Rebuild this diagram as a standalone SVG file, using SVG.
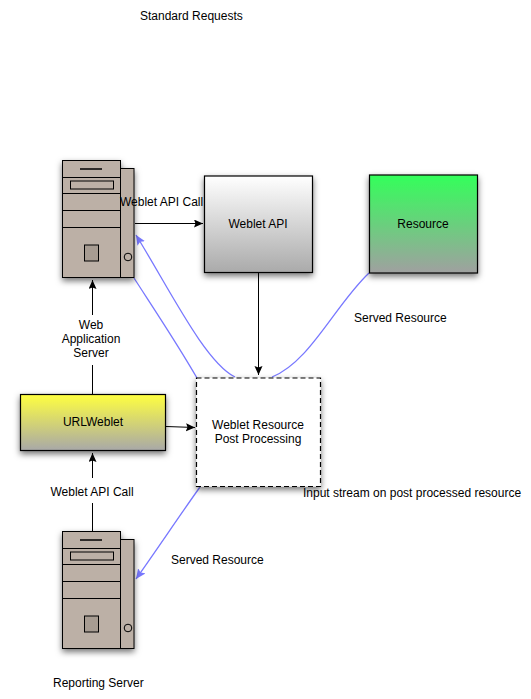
<svg xmlns="http://www.w3.org/2000/svg" xmlns:xlink="http://www.w3.org/1999/xlink" width="531" height="699" viewBox="0 0 531 699">
<style>
text{font-family:"Liberation Sans",Arial,sans-serif;font-size:12px;fill:#000}
.m{text-anchor:middle}
.box{stroke:#000;stroke-width:1.200}
.srv{fill:#bcb0a6;stroke:#000;stroke-width:1}
.k{fill:none;stroke:#000;stroke-width:1}
.b{fill:none;stroke:#7878ff;stroke-width:1.300}
</style>
<defs>
<filter id="sh" x="-20%" y="-20%" width="150%" height="150%"><feDropShadow dx="0" dy="3" stdDeviation="3" flood-color="#000" flood-opacity="0.55"/></filter>
<linearGradient id="gw" x1="0" y1="0" x2="0" y2="1"><stop offset="0" stop-color="#fff"/><stop offset="1" stop-color="#aaa"/></linearGradient>
<linearGradient id="gg" x1="0" y1="0" x2="0" y2="1"><stop offset="0" stop-color="#33ff5a"/><stop offset="1" stop-color="#a0a0a0"/></linearGradient>
<linearGradient id="gy" x1="0" y1="0" x2="0" y2="1"><stop offset="0" stop-color="#ffff40"/><stop offset="1" stop-color="#a8a8a8"/></linearGradient>
<marker id="ak" markerUnits="userSpaceOnUse" markerWidth="12" markerHeight="10" refX="9" refY="4" orient="auto"><path d="M0 0L9 4L0 8L1.500 4Z" fill="#000"/></marker>
<marker id="ab" markerUnits="userSpaceOnUse" markerWidth="12" markerHeight="10" refX="10" refY="4.500" orient="auto"><path d="M0 0L10 4.500L0 9L2 4.500Z" fill="#7878ff"/></marker>
<g id="server">
<g filter="url(#sh)"><rect class="srv" x="120.500" y="8" width="13.500" height="109"/><rect class="srv" x="62.500" y="0" width="58" height="117"/></g>
<path class="k" d="M62.500 17H120.500M62.500 33H120.500M62.500 50H120.500M62.500 67H120.500"/>
<path d="M80 8.500H102" stroke="#000" stroke-width="1.500"/>
<rect class="k" x="70.500" y="20.500" width="43" height="8"/>
<rect x="84.500" y="84.500" width="14" height="16" fill="#a79c92" stroke="#000"/>
<circle class="k" cx="128" cy="96.500" r="3.800"/>
</g>
</defs>
<rect width="531" height="699" fill="#fff"/>
<g id="connectors">
<path class="b" d="M134 278C150 303 175 340 197 378"/>
<path class="b" marker-end="url(#ab)" d="M235 377C205 362 170 290 136 235"/>
<path class="b" d="M369 273C335 305 310 362 272 377"/>
<path class="b" marker-end="url(#ab)" d="M200 487C180 515 160 545 136 579"/>
<path class="k" marker-end="url(#ak)" d="M135 223.500H203"/>
<path class="k" marker-end="url(#ak)" d="M258.500 272V375"/>
<path class="k" marker-end="url(#ak)" d="M166 426.500L195 427.500"/>
<path class="k" marker-end="url(#ak)" d="M92.500 315V280"/>
<path class="k" d="M92.500 365V394"/>
<path class="k" marker-end="url(#ak)" d="M92.500 478V453"/>
<path class="k" d="M92.500 503V531"/>
</g>
<g id="server-top"><use xlink:href="#server" href="#server" y="160.500"/></g>
<g id="server-bottom"><use xlink:href="#server" href="#server" y="531.500"/></g>
<g id="weblet-api"><rect class="box" x="204.500" y="176" width="108" height="96.500" fill="url(#gw)" filter="url(#sh)"/><text class="m" x="258" y="228">Weblet API</text></g>
<g id="resource"><rect class="box" x="369.500" y="175" width="108" height="98" fill="url(#gg)" filter="url(#sh)"/><text class="m" x="423" y="228">Resource</text></g>
<g id="urlweblet"><rect class="box" x="20.500" y="394.500" width="145" height="56" fill="url(#gy)" filter="url(#sh)"/><text class="m" x="93" y="426">URLWeblet</text></g>
<g id="post-processing"><rect x="196.500" y="378" width="124" height="108.500" fill="#fff" stroke="#000" stroke-width="1.200" stroke-dasharray="5 3" filter="url(#sh)"/><text class="m" x="258" y="429">Weblet Resource</text><text class="m" x="258" y="443">Post Processing</text></g>
<g id="labels">
<text x="140" y="20">Standard Requests</text>
<text x="120" y="206">Weblet API Call</text>
<text x="354" y="322">Served Resource</text>
<text class="m" x="91" y="329">Web</text>
<text class="m" x="91" y="343">Application</text>
<text class="m" x="91" y="357">Server</text>
<text x="303" y="497">Input stream on post processed resource</text>
<text class="m" x="92" y="496">Weblet API Call</text>
<text x="171" y="564">Served Resource</text>
<text x="53" y="687">Reporting Server</text>
</g>
</svg>
